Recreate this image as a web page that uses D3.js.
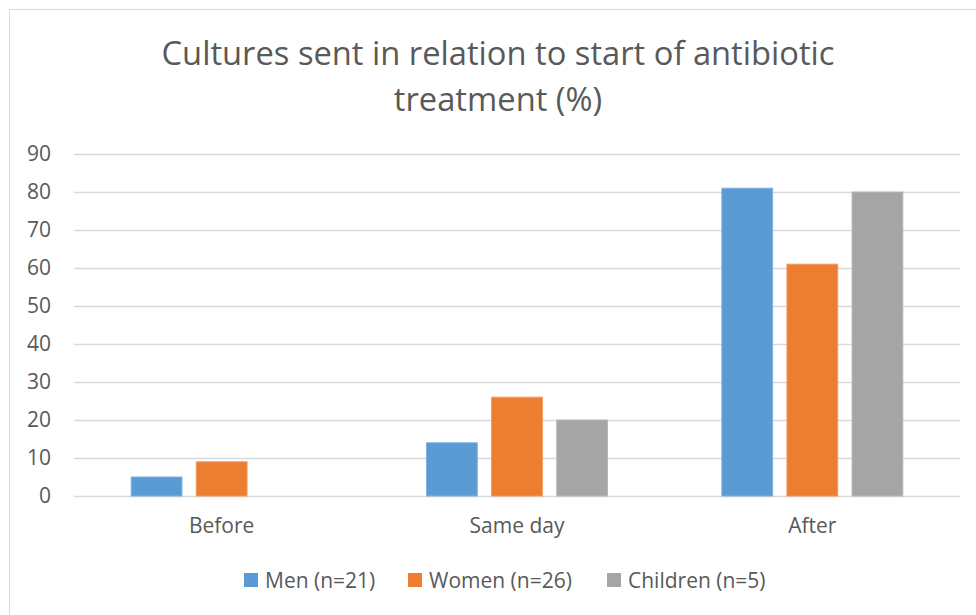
<!DOCTYPE html>
<html>
<head>
<meta charset="utf-8">
<script src="https://cdn.jsdelivr.net/npm/d3@7"></script>
<style>
  body { margin: 0; background: #fff; }
  text { font-family: "Open Sans", sans-serif; fill: #595959; }
</style>
</head>
<body>
<div id="chart"></div>
<script>
// data
var categories = ["Before", "Same day", "After"];
var seriesNames = ["Men (n=21)", "Women (n=26)", "Children (n=5)"];
var men = [5, 14, 81];
var women = [9, 26, 61];
var children = [0, 20, 80];
var yTicks = [0, 10, 20, 30, 40, 50, 60, 70, 80, 90];
var titleLines = ["Cultures sent in relation to start of antibiotic", "treatment (%)"];

var colors = ["#5B9BD5", "#ED7D31", "#A5A5A5"];
var strokes = ["#7fb1e0", "#f29a5e", "#b8b8b8"];

var W = 976, H = 615;
var margin = {top: 154, right: 16, bottom: 119, left: 74},
  width = W - margin.left - margin.right,
  height = H - margin.top - margin.bottom;

var svg = d3.select("#chart")
  .append("svg")
  .attr("width", W)
  .attr("height", H);

// chart border
svg.append("rect")
  .attr("x", 9.5).attr("y", 9.5)
  .attr("width", W + 10).attr("height", H + 10)
  .attr("fill", "none")
  .attr("stroke", "#d9d9d9");

var g = svg.append("g")
  .attr("transform", "translate(" + margin.left + "," + margin.top + ")");

var y = d3.scaleLinear().domain([0, 90]).range([height, 0]);
var x0 = d3.scaleBand().domain(categories).range([0, width]);
var x1 = d3.scaleBand().domain(seriesNames)
  .range([0, 181])
  .paddingInner(0.22);

// gridlines
g.append("g")
  .selectAll("line")
  .data(yTicks)
  .enter()
  .append("line")
  .attr("x1", 0).attr("x2", width)
  .attr("y1", function (d) { return Math.round(y(d)) + 0.5; })
  .attr("y2", function (d) { return Math.round(y(d)) + 0.5; })
  .attr("stroke", "#d9d9d9")
  .attr("stroke-width", 1.3);

// y labels
var yAxis = d3.axisLeft(y).tickValues(yTicks).tickSize(0).tickPadding(23);
var ya = g.append("g").call(yAxis);
ya.select(".domain").remove();
ya.selectAll("text")
  .style("font-size", "21px")
  .attr("fill", "#595959");

// x labels
var xAxis = d3.axisBottom(x0).tickSize(0).tickPadding(22);
var xa = g.append("g").attr("transform", "translate(0," + height + ")").call(xAxis);
xa.select(".domain").remove();
xa.selectAll("text")
  .style("font-size", "21px")
  .attr("fill", "#595959");

var series = [men, women, children];

var groups = g.selectAll(".cat")
  .data(categories)
  .enter()
  .append("g")
  .attr("class", "cat")
  .attr("transform", function (d) {
    return "translate(" + (x0(d) + (x0.bandwidth() - 181) / 2) + ",0)";
  });

groups.selectAll("rect")
  .data(function (d, i) {
    return seriesNames.map(function (s, j) { return {s: s, j: j, v: series[j][i]}; });
  })
  .enter()
  .filter(function (d) { return d.v > 0; })
  .append("rect")
  .attr("x", function (d) { return x1(d.s); })
  .attr("y", function (d) { return y(d.v); })
  .attr("width", x1.bandwidth())
  .attr("height", function (d) { return y(0) - y(d.v); })
  .attr("fill", function (d) { return colors[d.j]; })
  .attr("stroke", function (d) { return strokes[d.j]; })
  .attr("stroke-width", 1);

// title
var title = svg.append("text")
  .attr("text-anchor", "middle")
  .style("font-size", "32.7px");
title.selectAll("tspan")
  .data(titleLines)
  .enter()
  .append("tspan")
  .attr("x", W / 2 + 10)
  .attr("y", function (d, i) { return 65 + i * 46; })
  .text(function (d) { return d; });

// legend
var legendX = [244, 408, 607];
var legend = svg.append("g").selectAll("g")
  .data(seriesNames)
  .enter()
  .append("g")
  .attr("transform", function (d, i) { return "translate(" + legendX[i] + ",573)"; });

legend.append("rect")
  .attr("width", 14).attr("height", 14)
  .attr("fill", function (d, i) { return colors[i]; });

legend.append("text")
  .attr("x", 21)
  .attr("y", 14.5)
  .style("font-size", "21px")
  .text(function (d) { return d; });
</script>
</body>
</html>
